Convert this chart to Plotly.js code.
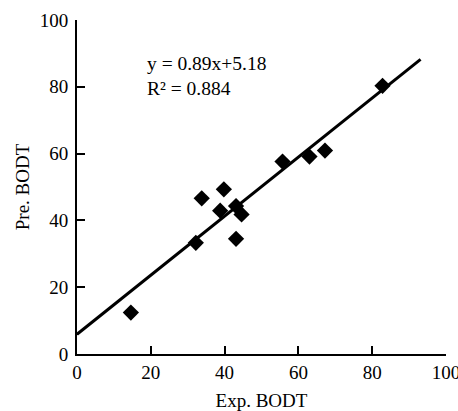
<!DOCTYPE html>
<html>
<head>
<meta charset="utf-8">
<script src="https://cdn.plot.ly/plotly-3.0.1.min.js"></script>
<style>html,body{margin:0;padding:0;background:#fff;}#chart{width:458px;height:411px;}</style>
</head>
<body>
<div id="chart"></div>
<script>
const expBODT = [14.6, 32.2, 33.8, 39.8, 38.8, 43.1, 44.6, 43.1, 55.7, 63.0, 67.2, 82.8];
const preBODT = [12.4, 33.3, 46.6, 49.3, 42.9, 44.3, 41.8, 34.5, 57.6, 59.1, 60.9, 80.3];
const fitX = [0, 93.1];
const fitY = [5.9, 88.2];
const eqText = "y = 0.89x+5.18";
const r2Text = "R² = 0.884";
const tickVals = [0, 20, 40, 60, 80, 100];

const font = {family: "Liberation Serif, Times New Roman, serif", color: "#000"};

const traces = [
  {x: fitX, y: fitY, mode: "lines", line: {color: "#000", width: 3}, hoverinfo: "skip"},
  {x: expBODT, y: preBODT, mode: "markers", marker: {symbol: "diamond", size: 12.5, color: "#000"}}
];

const axisBase = {
  range: [0, 100], tickvals: tickVals, ticks: "inside", ticklen: 8, tickwidth: 2, tickcolor: "#000",
  showline: true, linecolor: "#000", linewidth: 2, showgrid: false, zeroline: false,
  tickfont: Object.assign({size: 19}, font), fixedrange: true, ticklabeloverflow: "allow"
};

const layout = {
  width: 458, height: 411,
  margin: {l: 77, r: 12, t: 20, b: 57},
  paper_bgcolor: "#fff", plot_bgcolor: "#fff",
  showlegend: false,
  xaxis: Object.assign({}, axisBase, {title: {text: "Exp. BODT", font: Object.assign({size: 19}, font), standoff: 13}}),
  yaxis: Object.assign({}, axisBase, {ticklabelstandoff: 3, title: {text: "Pre. BODT", font: Object.assign({size: 19}, font), standoff: 5}}),
  annotations: [
    {x: 18.4, y: 87.1, xref: "x", yref: "y", text: eqText, showarrow: false, xanchor: "left", yanchor: "middle", font: Object.assign({size: 19.5}, font)},
    {x: 18.4, y: 79.6, xref: "x", yref: "y", text: r2Text, showarrow: false, xanchor: "left", yanchor: "middle", font: Object.assign({size: 19.5}, font)}
  ]
};

Plotly.newPlot("chart", traces, layout, {displayModeBar: false, staticPlot: true});
</script>
</body>
</html>
